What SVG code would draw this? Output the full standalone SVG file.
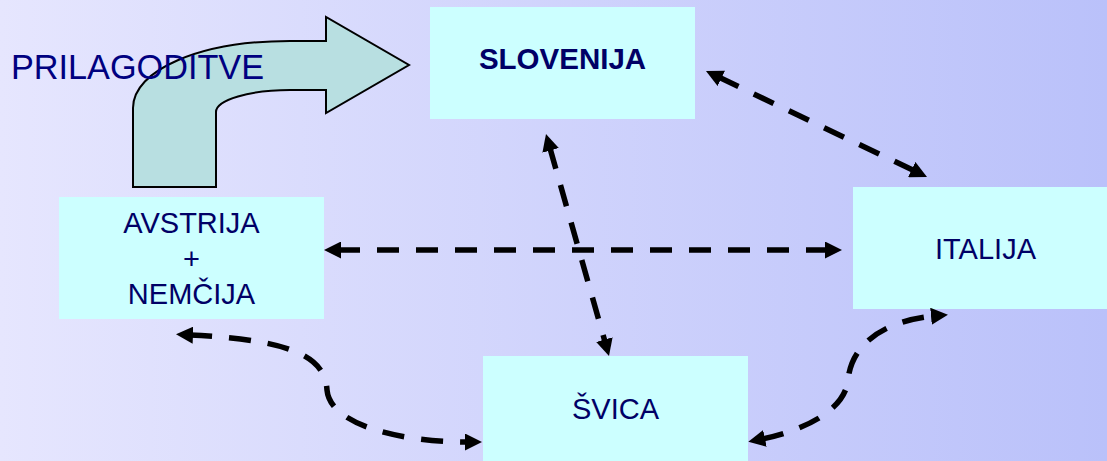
<svg xmlns="http://www.w3.org/2000/svg" width="1107" height="461" viewBox="0 0 1107 461">
  <style>
    .box { fill: #CCFFFF; }
    .lbl { font-family: "Liberation Sans", Arial, sans-serif; font-size: 29px; fill: #000066; text-anchor: middle; }
    .bold { font-weight: bold; font-size: 29.5px; }
    .conn { fill: none; stroke: #000; stroke-width: 5.5; stroke-dasharray: 22 17; }
  </style>
  <defs>
    <linearGradient id="bg" x1="0" y1="0" x2="1" y2="0">
      <stop offset="0" stop-color="#E6E6FE"/>
      <stop offset="1" stop-color="#BAC1FA"/>
    </linearGradient>
    <marker id="ah" viewBox="0 0 17 17" markerUnits="userSpaceOnUse" markerWidth="17" markerHeight="17" refX="3" refY="8.5" orient="auto-start-reverse">
      <path d="M0,0 L17,8.5 L0,17 Z" fill="#000"/>
    </marker>
  </defs>
  <rect x="0" y="0" width="1107" height="461" fill="url(#bg)"/>

  <g id="bent-arrow">
    <path d="M133,187 L133,108 C133,70 200,41 290,41 L326,41 L326,17 L409,65 L326,113 L326,90 L290,90 C250,90 216,100 216,112 L216,187 Z" fill="#B8DFE1" stroke="#000" stroke-width="2"/>
  </g>
  <text id="prilagoditve" x="11" y="79" font-family="'Liberation Sans', Arial, sans-serif" font-size="35" fill="#000080" textLength="253" lengthAdjust="spacingAndGlyphs">PRILAGODITVE</text>

  <g id="slovenija">
    <rect class="box" x="430" y="7" width="265" height="112"/>
    <text class="lbl bold" x="562.5" y="69">SLOVENIJA</text>
  </g>
  <g id="avstrija">
    <rect class="box" x="59" y="197" width="265" height="122"/>
    <text class="lbl" x="191.5" y="233">AVSTRIJA</text>
    <text class="lbl" x="191.5" y="269">+</text>
    <text class="lbl" x="191.5" y="304">NEMČIJA</text>
  </g>
  <g id="italija">
    <rect class="box" x="853" y="187" width="265" height="122"/>
    <text class="lbl" x="985.5" y="259">ITALIJA</text>
  </g>
  <g id="svica">
    <rect class="box" x="483" y="356" width="265" height="122"/>
    <text class="lbl" x="615.5" y="419">ŠVICA</text>
  </g>

  <g id="connectors">
    <path class="conn" d="M338,250 L828,250" marker-start="url(#ah)" marker-end="url(#ah)"/>
    <path class="conn" d="M718.6,77.1 L914.4,170.9" marker-start="url(#ah)" marker-end="url(#ah)"/>
    <path class="conn" d="M549.8,147.5 L605.2,342.5" marker-start="url(#ah)" marker-end="url(#ah)"/>
    <path class="conn" d="M190,335 C300,340 325,360 327,390 C330,425 400,442 468,442" marker-start="url(#ah)" marker-end="url(#ah)"/>
    <path class="conn" d="M762,439 C805,430 845,410 848,380 C852,340 890,320 934,316" marker-start="url(#ah)" marker-end="url(#ah)"/>
  </g>
</svg>
